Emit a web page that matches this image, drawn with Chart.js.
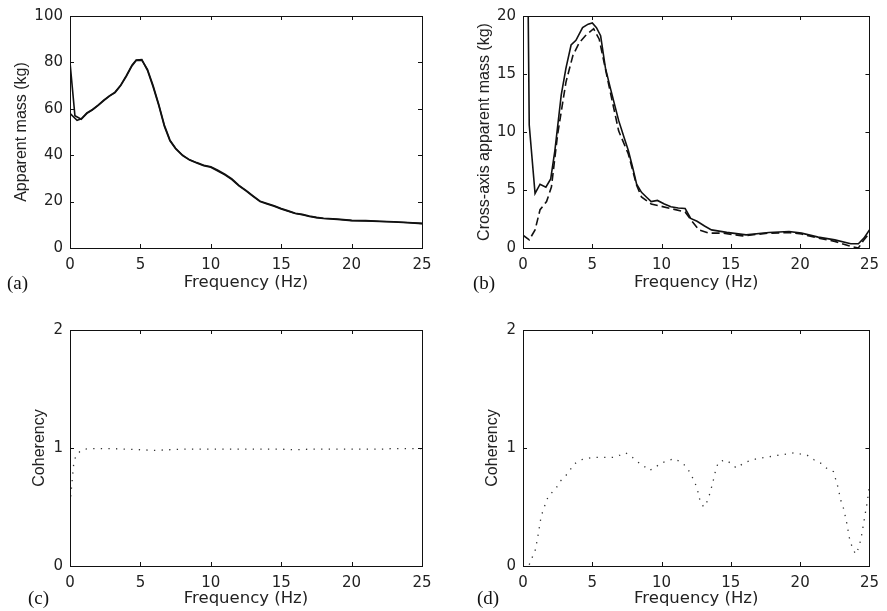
<!DOCTYPE html>
<html lang="en">
<head>
<meta charset="UTF-8">
<title>Apparent mass and coherency</title>
<style>
  body { margin: 0; background: #fff; }
  canvas { position: absolute; }
</style>
</head>
<body>
<canvas id="chartA" width="440" height="300" style="left:0;top:0"></canvas>
<canvas id="chartB" width="447" height="300" style="left:440px;top:0"></canvas>
<canvas id="chartC" width="440" height="311" style="left:0;top:300px"></canvas>
<canvas id="chartD" width="447" height="311" style="left:440px;top:300px"></canvas>

<script src="https://cdn.jsdelivr.net/npm/chart.js@4.4.1/dist/chart.umd.min.js"></script>
<script>
// (a) apparent mass, two runs
var freqA1 = [0, 0.35, 0.8, 1.2, 1.6, 2.0, 2.4, 2.8, 3.2, 3.6, 4.0, 4.4, 4.7, 5.1, 5.5, 5.9, 6.3, 6.7, 7.1, 7.5, 8.0, 8.5, 9.0, 9.5, 10.0, 10.5, 11.0, 11.5, 12.0, 12.5, 13.0, 13.5, 14.0, 14.5, 15.0, 15.5, 16.0, 16.5, 17.0, 17.5, 18.0, 19.0, 20.0, 21.0, 22.0, 23.0, 24.0, 25.0];
var massA1 = [80, 57, 55.5, 58, 59.5, 61.5, 63.5, 65.5, 67, 70, 74, 78.5, 80.8, 81, 77, 70, 62, 53, 46.5, 43, 40, 38, 36.8, 35.7, 35, 33.5, 31.8, 29.8, 27, 24.8, 22.5, 20.2, 19.2, 18.2, 17, 16, 15, 14.5, 13.8, 13.2, 12.8, 12.5, 11.9, 11.8, 11.5, 11.3, 11.0, 10.6];
var freqA2 = [0, 0.5, 0.8, 1.2, 1.6, 2.0, 2.4, 2.8, 3.2, 3.6, 4.0, 4.4, 4.7, 5.1, 5.5, 5.9, 6.3, 6.7, 7.1, 7.5, 8.0, 8.5, 9.0, 9.5, 10.0, 10.5, 11.0, 11.5, 12.0, 12.5, 13.0, 13.5, 14.0, 14.5, 15.0, 15.5, 16.0, 16.5, 17.0, 17.5, 18.0, 19.0, 20.0, 21.0, 22.0, 23.0, 24.0, 25.0];
var massA2 = [58, 55, 55.7, 58.2, 59.7, 61.6, 63.7, 65.6, 67.2, 70.2, 74.3, 78.8, 81, 81.2, 76.6, 69.5, 61.5, 52.5, 46.2, 42.8, 39.8, 37.9, 36.6, 35.5, 34.8, 33.2, 31.5, 29.5, 26.8, 24.6, 22.3, 20, 19, 18, 16.8, 15.8, 14.9, 14.3, 13.6, 13.1, 12.7, 12.3, 11.8, 11.7, 11.4, 11.2, 10.9, 10.5];

// (b) cross-axis apparent mass, solid and dashed
var freqB1 = [0.3, 0.45, 0.87, 1.23, 1.65, 2.0, 2.3, 2.76, 3.1, 3.47, 3.82, 4.3, 4.7, 5.0, 5.3, 5.6, 5.95, 6.3, 6.9, 7.3, 7.6, 7.9, 8.2, 8.55, 8.9, 9.25, 9.7, 10.2, 10.67, 11.2, 11.7, 12.1, 12.56, 13.1, 13.6, 14.7, 16.1, 17.75, 19.2, 20.1, 21.3, 22.5, 23.65, 24.2, 24.6, 25];
var massB1 = [30, 10.6, 4.7, 5.5, 5.25, 5.96, 8.4, 13.2, 15.5, 17.5, 17.9, 19.0, 19.3, 19.4, 19.0, 18.3, 15.5, 13.8, 11.0, 9.5, 8.4, 7.0, 5.5, 4.8, 4.4, 4.0, 4.1, 3.8, 3.55, 3.45, 3.4, 2.55, 2.3, 1.9, 1.56, 1.35, 1.13, 1.33, 1.42, 1.28, 0.94, 0.7, 0.37, 0.37, 0.85, 1.56];
var freqB2 = [0, 0.45, 0.87, 1.23, 1.7, 2.05, 2.5, 3.1, 3.6, 4.06, 4.5, 5.1, 5.5, 6.2, 6.9, 7.6, 8.2, 8.55, 9.25, 10.67, 11.7, 12.2, 12.7, 13.4, 14.4, 15.85, 17.75, 19.2, 20.1, 21.3, 22.5, 23.65, 24.2, 24.6, 25];
var massB2 = [1.1, 0.7, 1.56, 3.3, 4.0, 5.25, 9.8, 14.3, 16.6, 17.7, 18.3, 18.9, 18.0, 14.0, 10.1, 8.1, 5.4, 4.4, 3.8, 3.4, 3.1, 2.3, 1.56, 1.28, 1.28, 1.05, 1.28, 1.33, 1.2, 0.85, 0.57, 0.14, 0.0, 0.7, 1.28];

// (c) coherency, fore-and-aft
var freqC = [0.05, 0.15, 0.25, 0.4, 0.7, 1.0, 1.5, 2, 3, 4, 5, 6, 7, 8, 9, 10, 11, 12, 13, 14, 15, 16, 17, 18, 19, 20, 21, 22, 23, 24, 25];
var cohC = [0.59, 0.72, 0.85, 0.93, 0.97, 0.99, 0.995, 0.995, 0.995, 0.99, 0.985, 0.98, 0.985, 0.99, 0.99, 0.99, 0.99, 0.99, 0.99, 0.99, 0.99, 0.985, 0.99, 0.99, 0.99, 0.99, 0.99, 0.99, 0.995, 0.995, 0.995];

// (d) coherency, cross-axis
var freqD = [0.45, 0.69, 0.9, 1.1, 1.28, 1.44, 1.63, 1.82, 2.15, 2.39, 2.7, 3.2, 3.7, 4.2, 5.0, 5.5, 6.0, 6.5, 7.0, 7.4, 7.8, 8.3, 8.7, 9.1, 9.5, 9.9, 10.4, 10.9, 11.4, 11.8, 12.1, 12.4, 12.6, 12.8, 13.05, 13.3, 13.5, 13.7, 13.9, 14.1, 14.6, 15.0, 15.4, 15.9, 16.3, 16.9, 17.5, 18.0, 18.5, 19.1, 19.6, 20.0, 20.5, 21.0, 21.5, 22.0, 22.4, 22.7, 22.95, 23.15, 23.35, 23.55, 23.75, 24.0, 24.25, 24.45, 24.65, 24.85, 25];
var cohD = [0.01, 0.08, 0.14, 0.27, 0.40, 0.47, 0.53, 0.59, 0.63, 0.66, 0.72, 0.78, 0.865, 0.90, 0.92, 0.92, 0.92, 0.92, 0.94, 0.96, 0.93, 0.88, 0.85, 0.81, 0.83, 0.87, 0.89, 0.91, 0.88, 0.84, 0.78, 0.71, 0.64, 0.54, 0.50, 0.55, 0.62, 0.71, 0.81, 0.88, 0.90, 0.87, 0.83, 0.87, 0.89, 0.91, 0.92, 0.93, 0.94, 0.95, 0.96, 0.95, 0.94, 0.90, 0.87, 0.82, 0.80, 0.68, 0.55, 0.48, 0.37, 0.24, 0.16, 0.10, 0.16, 0.27, 0.41, 0.55, 0.68];

var freqTicks = [0, 5, 10, 15, 20, 25];

function pts(xs, ys) {
    return xs.map(function(v, i) { return {x: v, y: ys[i]}; });
}

// box round the plot, ticks pointing inward on all four sides, panel letter
var frame = {
    id: 'frame',
    afterDatasetsDraw: function(chart, args, opts) {
        var ctx = chart.ctx, a = chart.chartArea;
        var x = chart.scales.x, y = chart.scales.y;
        ctx.save();
        ctx.strokeStyle = '#111';
        ctx.lineWidth = 1;
        ctx.strokeRect(Math.round(a.left) + 0.5, Math.round(a.top) + 0.5, Math.round(a.width), Math.round(a.height));
        ctx.beginPath();
        x.ticks.forEach(function(t) {
            var px = Math.round(x.getPixelForValue(t.value)) + 0.5;
            ctx.moveTo(px, a.bottom); ctx.lineTo(px, a.bottom - 4);
            ctx.moveTo(px, a.top); ctx.lineTo(px, a.top + 4);
        });
        y.ticks.forEach(function(t) {
            var py = Math.round(y.getPixelForValue(t.value)) + 0.5;
            ctx.moveTo(a.left, py); ctx.lineTo(a.left + 4, py);
            ctx.moveTo(a.right, py); ctx.lineTo(a.right - 4, py);
        });
        ctx.stroke();
        ctx.fillStyle = '#111';
        ctx.font = '19px "Liberation Serif"';
        ctx.textBaseline = 'middle';
        ctx.fillText(opts.label, opts.lx, opts.ly);
        ctx.restore();
    }
};

function makeChart(id, datasets, o) {
    var cv = document.getElementById(id);
    return new Chart(cv, {
        type: 'line',
        data: { datasets: datasets },
        plugins: [frame],
        options: {
            responsive: false,
            animation: false,
            layout: { padding: { left: 0, right: cv.width - o.right, top: o.top, bottom: 0 } },
            elements: { point: { radius: 0 }, line: { tension: 0 } },
            plugins: {
                legend: { display: false },
                tooltip: { enabled: false },
                frame: { label: o.label, lx: o.lx, ly: o.ly }
            },
            scales: {
                x: {
                    type: 'linear', min: 0, max: 25,
                    afterBuildTicks: function(s) { s.ticks = freqTicks.map(function(v) { return {value: v}; }); },
                    afterFit: function(s) { s.height = cv.height - o.bottom; },
                    grid: { display: false, drawTicks: false },
                    border: { display: false },
                    ticks: { color: '#222', font: { size: 15 }, padding: 8, maxRotation: 0 },
                    title: { display: true, text: 'Frequency (Hz)', color: '#222', font: { size: 16.5 }, padding: { bottom: o.xtPad } }
                },
                y: {
                    type: 'linear', min: 0, max: o.ymax,
                    afterBuildTicks: function(s) { s.ticks = o.yTicks.map(function(v) { return {value: v}; }); },
                    afterFit: function(s) { s.width = o.left; },
                    grid: { display: false, drawTicks: false },
                    border: { display: false },
                    ticks: { color: '#222', font: { size: 15 }, padding: 7 },
                    title: { display: true, text: o.ytitle, color: '#222', font: { family: '"Liberation Sans"', size: 16 }, padding: { top: o.ytPad } }
                }
            }
        }
    });
}

Chart.defaults.font.family = '"DejaVu Sans"';

var solid = { borderColor: '#111', borderWidth: 1.6, fill: false };

makeChart('chartA', [
    Object.assign({ data: pts(freqA1, massA1) }, solid),
    Object.assign({ data: pts(freqA2, massA2) }, solid)
], { left: 70, right: 422, top: 13, bottom: 248, ymax: 100, yTicks: [0, 20, 40, 60, 80, 100],
     ytitle: 'Apparent mass (kg)', ytPad: 12, xtPad: 7, label: '(a)', lx: 7, ly: 284 });

makeChart('chartB', [
    Object.assign({ data: pts(freqB1, massB1) }, solid),
    Object.assign({ data: pts(freqB2, massB2), borderDash: [8, 4] }, solid)
], { left: 83, right: 436, top: 13, bottom: 248, ymax: 20, yTicks: [0, 5, 10, 15, 20],
     ytitle: 'Cross-axis apparent mass (kg)', ytPad: 35, xtPad: 7, label: '(b)', lx: 33, ly: 284 });

var dotted = { borderColor: '#333', borderWidth: 1.3, borderDash: [1.3, 6.3], fill: false };

makeChart('chartC', [
    Object.assign({ data: pts(freqC, cohC) }, dotted)
], { left: 70, right: 422, top: 30, bottom: 266, ymax: 2, yTicks: [0, 1, 2],
     ytitle: 'Coherency', ytPad: 30, xtPad: 2, label: '(c)', lx: 28, ly: 299 });

makeChart('chartD', [
    Object.assign({ data: pts(freqD, cohD) }, dotted)
], { left: 83, right: 435, top: 30, bottom: 266, ymax: 2, yTicks: [0, 1, 2],
     ytitle: 'Coherency', ytPad: 43, xtPad: 2, label: '(d)', lx: 37, ly: 299 });
</script>
</body>
</html>
